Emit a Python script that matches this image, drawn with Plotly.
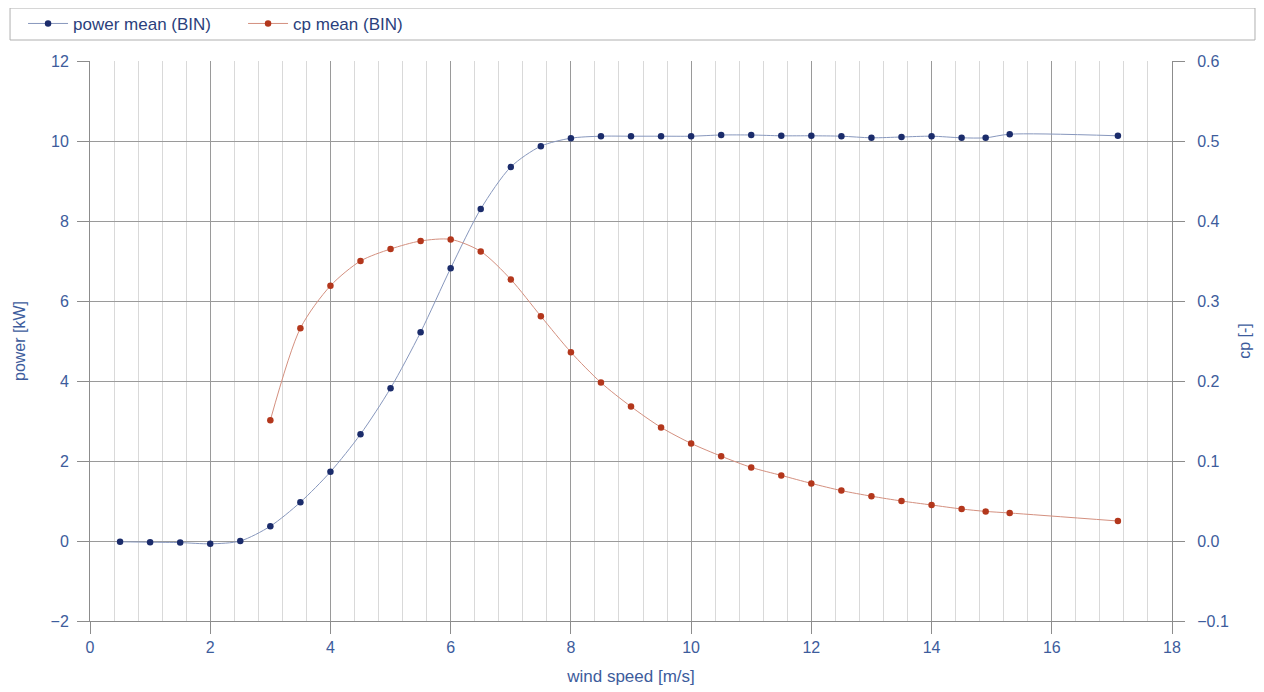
import plotly.graph_objects as go

# Data
wind_power = [0.5, 1.0, 1.5, 2.0, 2.5, 3.0, 3.5, 4.0, 4.5, 5.0, 5.5, 6.0, 6.5, 7.0, 7.5,
              8.0, 8.5, 9.0, 9.5, 10.0, 10.5, 11.0, 11.5, 12.0, 12.5, 13.0, 13.5, 14.0,
              14.5, 14.9, 15.3, 17.1]
power_mean = [-0.02, -0.03, -0.04, -0.07, 0.0, 0.37, 0.97, 1.73, 2.67, 3.82, 5.22, 6.82,
              8.3, 9.35, 9.87, 10.07, 10.12, 10.12, 10.12, 10.12, 10.15, 10.15, 10.13,
              10.13, 10.12, 10.08, 10.1, 10.12, 10.08, 10.08, 10.17, 10.13]

wind_cp = [3.0, 3.5, 4.0, 4.5, 5.0, 5.5, 6.0, 6.5, 7.0, 7.5, 8.0, 8.5, 9.0, 9.5, 10.0,
           10.5, 11.0, 11.5, 12.0, 12.5, 13.0, 13.5, 14.0, 14.5, 14.9, 15.3, 17.1]
cp_mean = [0.151, 0.266, 0.319, 0.35, 0.365, 0.375, 0.377, 0.362, 0.327, 0.281, 0.236,
           0.198, 0.168, 0.142, 0.122, 0.106, 0.092, 0.082, 0.072, 0.063, 0.056, 0.050,
           0.045, 0.040, 0.037, 0.035, 0.025]

x_ticks = [0, 2, 4, 6, 8, 10, 12, 14, 16, 18]
y_ticks = [-2, 0, 2, 4, 6, 8, 10, 12]
y2_ticks = [-0.1, 0.0, 0.1, 0.2, 0.3, 0.4, 0.5, 0.6]

FONT = "Liberation Sans, Arial, sans-serif"
TXT = "#3d5c9c"
AX = "#8c8c8c"

fig = go.Figure()
fig.add_trace(go.Scatter(
    x=wind_power, y=power_mean, name="power mean (BIN)", mode="lines+markers",
    line=dict(color="#8797bd", width=1, shape="spline", smoothing=0.8),
    marker=dict(color="#1b2c6b", size=6.5),
))
fig.add_trace(go.Scatter(
    x=wind_cp, y=cp_mean, name="cp mean (BIN)", mode="lines+markers", yaxis="y2",
    line=dict(color="#d4907f", width=1, shape="spline", smoothing=0.8),
    marker=dict(color="#b3371c", size=6.5),
))

fig.update_layout(
    width=1264, height=692,
    margin=dict(l=82, r=100, t=53, b=79, autoexpand=False),
    paper_bgcolor="white", plot_bgcolor="white",
    font=dict(family=FONT, size=16, color=TXT),
    showlegend=True,
    legend=dict(orientation="h", xref="container", yref="container",
                x=0.0119, y=0.977, xanchor="left", yanchor="middle",
                font=dict(size=17, color="#2b3f7c"), bgcolor="rgba(0,0,0,0)",
                itemwidth=40, tracegroupgap=0, entrywidth=165, entrywidthmode="pixels"),
    xaxis=dict(
        range=[0, 18], tickvals=x_ticks, showgrid=True, gridcolor="#9a9a9a", gridwidth=1,
        minor=dict(dtick=0.4, tick0=0, showgrid=True, gridcolor="#d9d9d9", gridwidth=1),
        showline=True, linecolor=AX, linewidth=1, ticks="outside", ticklen=12,
        tickcolor=AX, zeroline=False,
        title=dict(text="wind speed [m/s]", font=dict(size=17, color=TXT), standoff=14),
        tickfont=dict(size=16, color=TXT),
    ),
    yaxis=dict(
        range=[-2, 12], tickvals=y_ticks, showgrid=True, gridcolor="#9a9a9a", gridwidth=1,
        showline=True, linecolor=AX, linewidth=1, ticks="outside", ticklen=12,
        tickcolor=AX, zeroline=False, ticklabelstandoff=5,
        title=dict(text="power [kW]", font=dict(size=16, color=TXT), standoff=20),
        tickfont=dict(size=16, color=TXT),
    ),
    yaxis2=dict(
        range=[-0.1, 0.6], tickvals=y2_ticks, tickformat=".1f", overlaying="y", side="right",
        showgrid=False, showline=True, linecolor=AX, linewidth=1, ticks="outside",
        ticklen=12, tickcolor=AX, zeroline=False, ticklabelstandoff=9,
        title=dict(text="cp [-]", font=dict(size=16, color=TXT), standoff=10),
        tickfont=dict(size=16, color=TXT),
    ),
    shapes=[dict(type="rect", xref="paper", yref="paper",
                 x0=-0.0739, x1=1.0767, y0=1.0375, y1=1.0946,
                 line=dict(color="#b0b0b0", width=1), fillcolor="rgba(0,0,0,0)")],
)

fig.write_html("out.html")
